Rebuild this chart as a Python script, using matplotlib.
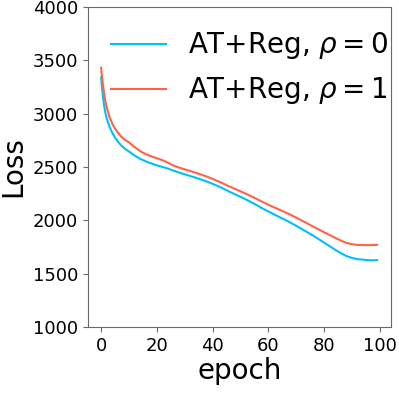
import matplotlib
matplotlib.use("Agg")
import matplotlib.pyplot as plt

epochs_a = [0, 0.5, 1, 1.5, 2, 3, 4, 5, 6, 7, 8, 9, 10, 12, 14, 16, 18, 20, 22, 24, 26, 28, 30,
            32, 34, 36, 38, 40, 42, 44, 46, 48, 50, 52, 54, 56, 58, 60, 62, 64, 66, 68, 70, 72,
            74, 76, 78, 80, 82, 84, 86, 88, 90, 92, 95, 97, 99]
loss_rho0 = [3340, 3195, 3090, 3010, 2955, 2878, 2820, 2775, 2738, 2708, 2683, 2662, 2645, 2607,
             2577, 2553, 2533, 2515, 2500, 2485, 2465, 2448, 2431, 2415, 2399, 2381, 2363, 2342,
             2320, 2295, 2268, 2244, 2220, 2195, 2168, 2140, 2110, 2082, 2056, 2030, 2004, 1977,
             1948, 1918, 1888, 1857, 1824, 1791, 1757, 1723, 1692, 1665, 1647, 1636, 1628, 1625,
             1626]
loss_rho1 = [3430, 3300, 3200, 3120, 3060, 2970, 2905, 2860, 2822, 2792, 2767, 2747, 2730, 2687,
             2648, 2621, 2600, 2582, 2564, 2540, 2512, 2494, 2478, 2462, 2445, 2428, 2409, 2388,
             2366, 2342, 2317, 2295, 2272, 2248, 2224, 2198, 2171, 2146, 2122, 2099, 2076, 2051,
             2025, 1997, 1970, 1942, 1915, 1888, 1862, 1835, 1810, 1789, 1776, 1769, 1767, 1768,
             1770]
labels = [r"AT+Reg, $\rho=0$", r"AT+Reg, $\rho=1$"]
colors = ["#00BFFF", "#FF6347"]
yticks = [1000, 1500, 2000, 2500, 3000, 3500, 4000]
xticks = [0, 20, 40, 60, 80, 100]

fig = plt.figure(figsize=(3.99, 3.99), dpi=100)
ax = fig.add_axes([0.2206, 0.1805, 0.7594, 0.802])
ax.plot(epochs_a, loss_rho0, color=colors[0], lw=1.5, label=labels[0])
ax.plot(epochs_a, loss_rho1, color=colors[1], lw=1.5, label=labels[1])
ax.set_ylim(1000, 4000)
ax.set_xlim(-4.7, 104.0)
ax.set_yticks(yticks)
ax.set_xticks(xticks)
ax.tick_params(labelsize=13, color="dimgray")
for s in ax.spines.values():
    s.set_color("dimgray")
ax.set_xlabel("epoch", fontsize=20, labelpad=2)
ax.set_ylabel("Loss", fontsize=20, labelpad=4)
ax.legend(loc="upper right", bbox_to_anchor=(1.075, 1.005), fontsize=20, frameon=False)
fig.savefig("out.png", dpi=100)
